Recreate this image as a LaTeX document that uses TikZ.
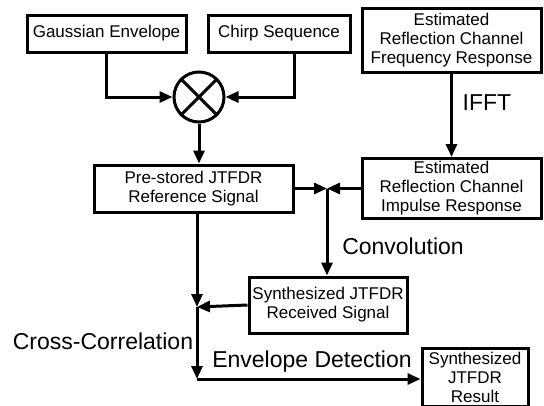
\documentclass[tikz,border=0pt]{standalone}
\usepackage{fontspec}
\setmainfont{Liberation Sans}
\usepackage{tikz}
\usetikzlibrary{arrows.meta,positioning,shapes,calc}

\begin{document}
\begin{tikzpicture}[
    x=1pt, y=-1pt,
    every node/.style={font=\fontsize{17}{19}\selectfont},
    block/.style={rectangle, draw=black, line width=3pt, inner sep=0pt, align=center},
    mixer/.style={circle, draw=black, line width=3pt, minimum size=50pt, inner sep=0pt},
    flow/.style={-{Triangle[length=13pt,width=11pt]}, line width=3pt},
    line/.style={line width=3pt},
    lbl/.style={font=\fontsize{23}{26}\selectfont}
]
\useasboundingbox (0,0) rectangle (544,405);

% Signal generation
\node[block, minimum width=159pt, minimum height=37pt] (gauss) at (106.5,33.5) {Gaussian Envelope};
\node[block, minimum width=142pt, minimum height=37pt] (chirp) at (279,33.5) {Chirp Sequence};
\node[mixer] (mult) at (199,97) {};
\draw[line] (mult.north west) -- (mult.south east);
\draw[line] (mult.north east) -- (mult.south west);

% Reference and channel
\node[block, minimum width=199pt, minimum height=47pt] (prestored) at (193.5,188.5) {Pre-stored JTFDR\\Reference Signal};
\node[block, minimum width=179pt, minimum height=64pt] (freqresp) at (451.5,40) {Estimated\\Reflection Channel\\Frequency Response};
\node[block, minimum width=179pt, minimum height=60pt] (impresp) at (451.5,188.5) {Estimated\\Reflection Channel\\Impulse Response};

% Synthesis and result
\node[block, minimum width=158pt, minimum height=56pt] (received) at (328,305) {Synthesized JTFDR\\Received Signal};
\node[block, minimum width=106pt, minimum height=58pt, anchor=north] (result) at (475,347) {Synthesized\\JTFDR\\Result};

% Junctions
\coordinate (convj) at (327,188.5);
\coordinate (corrj) at (197,307);
\coordinate (envj) at (197,379);

% Mixing flows
\draw[flow] (gauss.south) |- (mult.west);
\draw[flow] ([xshift=15pt]chirp.south) |- (mult.east);
\draw[flow] (mult.south) -- (mult.south |- prestored.north);

% Channel flows
\draw[flow] (freqresp.south) -- (impresp.north);
\draw[flow] (prestored.east) -- (convj);
\draw[flow] (impresp.west) -- (convj);
\draw[flow] (convj) -- (convj |- received.north);

% Correlation and detection
\draw[flow] (corrj |- prestored.south) -- (corrj);
\draw[flow] (received.west) -- (corrj);
\draw[flow] (corrj) -- (envj);
\draw[flow] (envj) -- (envj -| result.west);

% Operation labels
\node[lbl] (ifft) at (487,103) {IFFT};
\node[lbl] (conv) at (403,246) {Convolution};
\node[lbl] (xcorr) at (103,341) {Cross-Correlation};
\node[lbl] (envdet) at (312,362) {Envelope Detection};

\end{tikzpicture}
\end{document}
